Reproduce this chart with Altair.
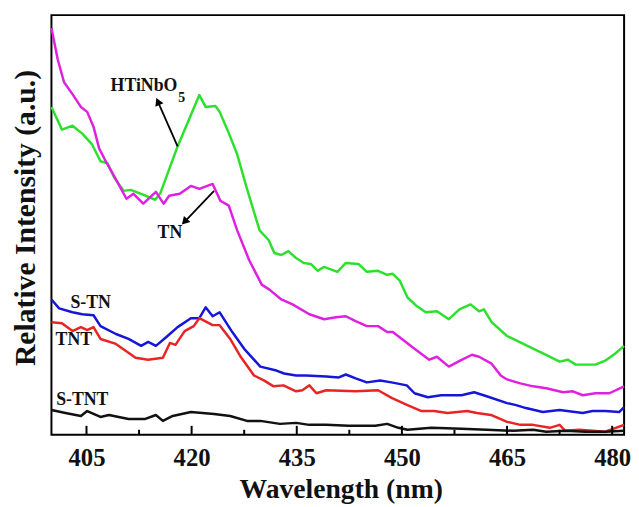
import math
import altair as alt
import pandas as pd

# ---------------- data ----------------
green_wl = [400.0, 401.5, 403.0, 404.4, 405.8, 407.0, 408.0, 409.0, 410.3, 411.3, 412.8, 414.8, 415.5,
            418.0, 421.1, 422.0, 423.4, 424.0, 425.1, 426.5, 427.9, 429.7, 431.0, 431.8, 432.8, 433.8,
            434.9, 436.0, 437.0, 438.0, 438.9, 440.8, 442.0, 443.8, 445.0, 446.6, 447.9, 448.7, 449.7,
            450.8, 452.0, 453.4, 455.0, 456.7, 458.2, 459.8, 461.0, 461.7, 462.8, 465.0, 468.2, 469.7,
            472.5, 473.7, 474.8, 477.6, 479.0, 480.4, 481.7]
green_val = [332, 309, 313, 305, 294, 277, 275, 260, 247, 248, 244, 238, 244,
             292, 344, 332, 333, 327, 309, 284, 249, 207, 197, 184, 182, 186,
             179, 174, 173, 166, 170, 165, 174, 173, 165, 166, 162, 163, 156,
             139, 131, 124, 125, 117, 127, 132, 125, 127, 114, 100, 89, 84,
             74, 76, 71, 71, 75, 82, 90]

magenta_wl = [400.0, 400.9, 401.8, 403.0, 404.2, 405.1, 406.0, 406.8, 407.9, 409.1, 410.7, 411.7, 413.1,
              414.9, 416.0, 416.8, 418.3, 419.9, 421.1, 423.0, 424.1, 425.3, 426.5, 428.2, 430.0, 431.1,
              432.8, 434.4, 436.8, 438.9, 440.6, 442.0, 443.4, 445.0, 446.6, 447.9, 448.7, 450.0, 451.8,
              453.9, 455.0, 456.7, 458.3, 460.0, 461.0, 462.8, 464.1, 465.0, 466.9, 468.7, 470.6, 473.0,
              474.4, 475.8, 477.6, 479.6, 481.7]
magenta_val = [412, 380, 357, 345, 332, 327, 312, 290, 275, 260, 239, 244, 234,
               246, 234, 242, 244, 252, 249, 254, 237, 232, 207, 177, 152, 147,
               137, 132, 122, 117, 119, 120, 115, 110, 110, 104, 104, 97, 87,
               76, 79, 69, 75, 81, 79, 72, 60, 56, 52, 49, 47, 43,
               44, 40, 42, 42, 49]

blue_wl = [400.0, 401.1, 403.0, 404.4, 406.0, 407.0, 409.2, 411.0, 412.8, 413.8, 414.9, 416.4, 418.0,
           419.9, 421.1, 422.0, 423.0, 424.0, 425.8, 427.5, 429.8, 432.1, 433.2, 434.9, 436.3, 439.2,
           441.0, 442.0, 443.4, 445.0, 446.9, 448.5, 450.7, 451.8, 453.7, 455.6, 458.5, 460.3, 462.1,
           465.0, 466.3, 467.7, 470.1, 472.5, 475.8, 477.2, 479.0, 481.0, 481.7]
blue_val = [137, 128, 124, 122, 121, 110, 102, 97, 90, 94, 90, 99, 109,
            118, 118, 129, 120, 124, 104, 87, 69, 65, 62, 60, 60, 59,
            58, 61, 57, 53, 55, 53, 50, 42, 38, 40, 40, 43, 39,
            32, 30, 27, 23, 25, 22, 24, 24, 23, 28]

red_wl = [400.0, 401.5, 403.0, 404.2, 405.1, 406.0, 407.0, 409.2, 412.0, 413.8, 415.9, 416.9, 417.7,
          419.0, 420.3, 421.1, 423.0, 424.0, 425.5, 426.9, 428.9, 430.3, 431.7, 433.1, 434.9, 435.8,
          436.8, 437.8, 439.2, 443.4, 446.6, 448.6, 450.8, 452.8, 454.6, 456.5, 459.3, 460.7, 462.7,
          465.0, 466.9, 468.7, 471.1, 472.5, 473.3, 475.3, 477.2, 479.0, 481.7]
red_val = [114, 113, 105, 109, 106, 109, 97, 92, 78, 76, 78, 93, 91,
           105, 110, 118, 111, 111, 97, 80, 60, 55, 49, 50, 44, 45,
           50, 42, 45, 44, 45, 37, 30, 24, 24, 22, 24, 22, 20,
           13, 10, 10, 7, 10, 4, 5, 4, 3, 10]

black_wl = [400.0, 402.0, 404.2, 405.1, 407.0, 408.2, 411.0, 413.4, 414.9, 415.9, 417.3, 419.9, 423.2,
            425.5, 427.9, 429.8, 432.6, 434.9, 436.8, 439.2, 442.4, 446.2, 447.9, 449.5, 450.8, 454.2,
            458.5, 462.1, 465.9, 468.7, 470.6, 473.3, 476.2, 479.0, 481.7]
black_val = [25, 22, 19, 24, 18, 20, 16, 16, 20, 14, 19, 23, 21,
             19, 14, 14, 11, 12, 10, 10, 9, 9, 11, 7, 5, 7,
             6, 5, 4, 5, 3, 4, 3, 3, 4]

series_names = ["S-TNT", "TNT", "S-TN", "TN", "HTiNbO5"]
series_colors = ["#111111", "#e82424", "#1616d8", "#e020e0", "#2ee02e"]

major_ticks = [405, 420, 435, 450, 465, 480]
minor_ticks = [412.5, 427.5, 442.5, 457.5, 472.5]

label_text = ["HTiNbO", "5", "TN", "S-TN", "TNT", "S-TNT"]
label_wl = [413.2, 418.6, 416.9, 405.6, 403.2, 404.4]
label_val = [353, 341, 204, 133, 96, 35]
label_size = [18, 14, 18, 18, 18, 18]

arrow_x1 = [418.0, 423.2]
arrow_y1 = [292, 247]
arrow_x2 = [414.9, 418.5]
arrow_y2 = [342, 212]

# ---------------- build tables ----------------
rows = []
for name, wls, vals in [("HTiNbO5", green_wl, green_val), ("TN", magenta_wl, magenta_val),
                        ("S-TN", blue_wl, blue_val), ("TNT", red_wl, red_val),
                        ("S-TNT", black_wl, black_val)]:
    for w, v in zip(wls, vals):
        rows.append({"series": name, "wl": w, "val": v})
df = pd.DataFrame(rows)

W, H = 580, 425
X_DOMAIN = [400.0, 481.7]
Y_DOMAIN = [0, 425]
px_per_x = W / (X_DOMAIN[1] - X_DOMAIN[0])
px_per_y = H / (Y_DOMAIN[1] - Y_DOMAIN[0])

arr_rows = []
for x1, y1, x2, y2 in zip(arrow_x1, arrow_y1, arrow_x2, arrow_y2):
    dx = (x2 - x1) * px_per_x
    dy = (y2 - y1) * px_per_y  # upward positive
    ang = math.degrees(math.atan2(dx, dy)) % 360
    L = math.hypot(dx, dy)
    back = 5.0
    hx = x2 - dx / L * back / px_per_x
    hy = y2 - dy / L * back / px_per_y
    arr_rows.append({"wl": x1, "val": y1, "wl2": hx, "val2": hy, "ang": ang})
arr_df = pd.DataFrame(arr_rows)

lab_df = pd.DataFrame({"t": label_text, "wl": label_wl, "val": label_val, "fs": label_size})

FONT = "Liberation Serif"
xs = alt.Scale(domain=X_DOMAIN, nice=False, zero=False)
ys = alt.Scale(domain=Y_DOMAIN, nice=False, zero=False)

x_axis = alt.Axis(
    values=major_ticks, format="d", ticks=False, tickSize=0, domain=False, grid=False,
    labelFont=FONT, labelFontSize=25, labelFontWeight="bold", labelColor="#111111",
    labelPadding=11, labelFlush=False,
    title="Wavelength (nm)", titleFont=FONT, titleFontSize=28, titleFontWeight="bold",
    titleColor="#111111", titleX=293, titleY=64, titleBaseline="alphabetic")
y_axis = alt.Axis(
    labels=False, ticks=False, domain=False, grid=False,
    title="Relative Intensity (a.u.)", titleFont=FONT, titleFontSize=30, titleFontWeight="bold",
    titleColor="#111111", titleX=-17, titleY=205, titleAngle=270, titleAlign="center",
    titleBaseline="alphabetic")

X = alt.X("wl:Q", scale=xs, axis=x_axis, title="Wavelength (nm)")
Y = alt.Y("val:Q", scale=ys, axis=y_axis, title="Relative Intensity (a.u.)")

lines = alt.Chart(df).mark_line(strokeWidth=2.5, strokeJoin="round").encode(
    x=X, y=Y,
    color=alt.Color("series:N", scale=alt.Scale(domain=series_names, range=series_colors), legend=None),
    detail="series:N",
)

major = alt.Chart(pd.DataFrame({"wl": major_ticks})).mark_rule(color="black", strokeWidth=2).encode(
    x=X, y=alt.value(H), y2=alt.value(H - 9))
minor = alt.Chart(pd.DataFrame({"wl": minor_ticks})).mark_rule(color="black", strokeWidth=2).encode(
    x=X, y=alt.value(H), y2=alt.value(H - 5))

shafts = alt.Chart(arr_df).mark_rule(color="black", strokeWidth=1.8).encode(
    x=X, y=Y, x2="wl2:Q", y2="val2:Q")
heads = alt.Chart(arr_df).mark_point(shape="triangle-up", filled=True, size=80, color="black", opacity=1).encode(
    x=alt.X("wl2:Q", scale=xs, axis=x_axis, title="Wavelength (nm)"),
    y=alt.Y("val2:Q", scale=ys, axis=y_axis, title="Relative Intensity (a.u.)"),
    angle=alt.Angle("ang:Q", scale=None))

labels = alt.Chart(lab_df).mark_text(font=FONT, fontWeight="bold", color="#111111",
                                     align="center", baseline="middle").encode(
    x=X, y=Y, text="t:N", size=alt.Size("fs:Q", scale=None))

chart = alt.layer(lines, major, minor, shafts, heads, labels).properties(
    width=W, height=H,
    background="white",
    autosize=alt.AutoSizeParams(type="none"),
    padding={"left": 44, "top": 4, "right": 7, "bottom": 70},
).configure_view(stroke="black", strokeWidth=2)

chart.save("out.html", embed_options={"renderer": "svg", "actions": False})
